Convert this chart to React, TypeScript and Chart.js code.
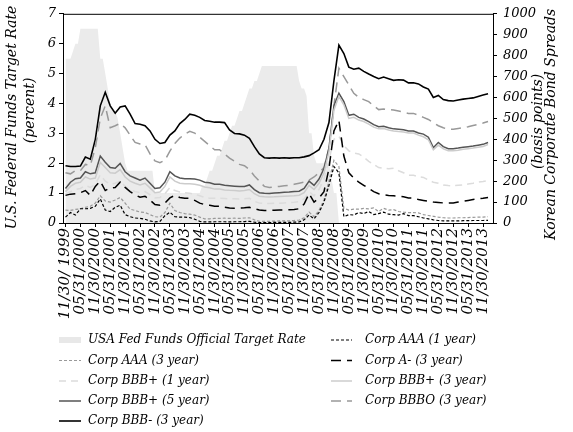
import React, { useEffect, useRef } from "react";
import { Chart, registerables } from "chart.js";

Chart.register(...registerables);

const FONT = "'DejaVu Serif', serif";

// x tick labels, one every 6 months starting at 11/30/1999 (month index 0)
const tickLabels = [
  "11/30/ 1999", "05/31/2000", "11/30/2000", "05/31/2001", "11/30/2001",
  "05/31/2002", "11/30/2002", "05/31/2003", "11/30/2003", "05/31/2004",
  "11/30/2004", "05/31/2005", "11/30/2005", "05/31/2006", "11/30/2006",
  "05/31/2007", "11/30/2007", "05/31/2008", "11/30/2008", "05/31/2009",
  "11/30/2009", "05/31/2010", "11/30/2010", "05/31/2011", "11/30/2011",
  "05/31/2012", "11/30/2012", "05/31/2013", "11/30/2013",
];

// month indices (0 = Nov 1999)
const fedMonths = Array.from({ length: 172 }, (_, k) => k);
const sampleMonths = Array.from({ length: 86 }, (_, k) => k * 2);

// USA Fed Funds Official Target Rate (percent), monthly
const fedFunds = [
  5.5, 5.5, 5.5, 5.75, 6, 6, 6.5, 6.5, 6.5, 6.5, 6.5, 6.5, 6.5, 6.5,
  5.5, 5.5, 5.0, 4.5, 4.0, 3.75, 3.75, 3.5, 3.0, 2.5, 2.0,
  1.75, 1.75, 1.75, 1.75, 1.75, 1.75, 1.75, 1.75, 1.75, 1.75, 1.75,
  1, 1, 1, 1, 1, 1, 1, 1, 1, 1, 1, 1, 1, 1, 1, 1, 1, 1, 1,
  1.25, 1.25, 1.5, 1.75, 1.75, 2.0, 2.25, 2.25, 2.5, 2.75, 2.75, 3.0,
  3.25, 3.25, 3.5, 3.75, 3.75, 4.0, 4.25, 4.5, 4.5, 4.75, 4.75, 5.0,
  5.25, 5.25, 5.25, 5.25, 5.25, 5.25, 5.25, 5.25, 5.25, 5.25, 5.25, 5.25, 5.25, 5.25, 5.25,
  4.75, 4.5, 4.5, 4.25, 3.0, 3.0, 2.25, 2.0,
  2.0, 2.0, 2.0, 2.0, 2.0,
  1.5, 1.0, 1.0,
  0, 0, 0, 0, 0, 0, 0, 0, 0, 0,
  0, 0, 0, 0, 0, 0, 0, 0, 0, 0,
  0, 0, 0, 0, 0, 0, 0, 0, 0, 0,
  0, 0, 0, 0, 0, 0, 0, 0, 0, 0,
  0, 0, 0, 0, 0, 0, 0, 0, 0, 0,
  0, 0, 0, 0, 0, 0, 0, 0, 0, 0,
  0, 0,
];

// Korean corporate bond spreads (basis points), every 2 months
const corpAAA1 = [
  28, 50, 38, 68, 68, 70, 80, 115, 62, 55, 75, 85, 40, 30, 24, 22, 18, 10, 5, 8,
  35, 52, 30, 28, 28, 26, 18, 8, 5, 5, 6,
  6, 6, 5, 6, 6, 7, 8, 4, 2, 2, 2, 3, 3, 3, 3, 4, 5, 15, 38, 20,
  50, 100, 180, 270, 240, 30, 40, 38, 50, 45, 55, 40, 45, 52, 42, 40, 38, 45, 35,
  35, 30, 24, 20, 15, 12, 10, 10, 10, 10, 11, 11, 12, 12, 12, 13,
];
const corpAAA3 = [
  62, 60, 65, 68, 75, 80, 95, 130, 105, 100, 110, 122, 95, 66, 60, 52, 50, 40, 30, 28,
  50, 94, 60, 50, 45, 42, 38, 28, 20, 20, 22,
  22, 23, 22, 23, 22, 24, 25, 15, 8, 8, 8, 9, 10, 10, 10, 12, 14, 25, 52, 30,
  60, 110, 200, 300, 270, 70, 62, 66, 66, 70, 68, 72, 55, 70, 62, 64, 55, 52, 50,
  50, 48, 40, 36, 32, 28, 25, 24, 24, 25, 25, 26, 27, 28, 28, 30,
];
const corpAm3 = [
  132, 138, 140, 145, 155, 132, 175, 200, 155, 168, 170, 195, 170, 150, 135, 123, 128, 110, 88, 85,
  95, 120, 132, 122, 118, 118, 108, 95, 88, 85, 80,
  80, 76, 72, 71, 72, 73, 75, 68, 62, 60, 60, 61, 62, 62, 63, 65, 68, 90, 141, 100,
  120, 150, 260, 440, 490, 320, 240, 215, 195, 180, 165, 150, 140, 135, 132, 130, 128, 125, 120,
  120, 112, 108, 104, 100, 98, 96, 95, 96, 100, 104, 108, 112, 116, 118, 122,
];
const corpBBBp1 = [
  140, 150, 160, 165, 180, 170, 185, 230, 200, 185, 190, 200, 175, 160, 150, 145, 150, 135, 120, 122,
  140, 170, 155, 148, 145, 142, 138, 130, 122, 118, 118,
  118, 117, 116, 116, 115, 116, 118, 104, 95, 93, 93, 94, 95, 96, 97, 99, 102, 115, 150, 130,
  160, 210, 300, 400, 415, 370, 345, 335, 330, 315, 295, 280, 265, 262, 259, 262, 250, 240, 228,
  228, 222, 218, 205, 195, 190, 182, 179, 178, 180, 182, 186, 190, 195, 198, 203,
];
const corpBBBp3 = [
  150, 175, 190, 195, 220, 210, 215, 290, 265, 240, 238, 255, 220, 200, 190, 182, 190, 168, 145, 148,
  175, 220, 200, 190, 188, 188, 185, 180, 172, 168, 162,
  162, 158, 156, 155, 153, 155, 160, 140, 128, 125, 124, 125, 127, 128, 129, 130, 133, 145, 180, 160,
  190, 240, 340, 540, 605, 565, 500, 505, 492, 485, 473, 458, 450, 452, 445, 440, 437, 435, 430,
  430, 420, 412, 398, 350, 372, 355, 345, 345, 348, 352, 355, 358, 362, 366, 375,
];
const corpBBBp5 = [
  165, 195, 212, 215, 245, 235, 240, 320, 290, 265, 262, 285, 245, 225, 215, 205, 215, 190, 165, 168,
  195, 245, 225, 215, 212, 212, 210, 205, 195, 192, 185,
  185, 180, 178, 176, 174, 175, 182, 160, 145, 142, 141, 143, 145, 147, 148, 150, 152, 165, 200, 180,
  210, 260, 358, 560, 620, 580, 515, 520, 505, 497, 485, 470, 460, 462, 455, 450, 448, 446, 440,
  440, 430, 425, 410, 360, 385, 365, 355, 355, 358, 362, 365, 368, 372, 376, 385,
];
const corpBBBO3 = [
  240, 235, 250, 250, 280, 275, 360, 500, 560, 455, 465, 476, 455, 420, 385, 378, 375, 330, 297, 288,
  300, 344, 380, 406, 425, 438, 430, 410, 390, 370, 350,
  350, 330, 310, 295, 280, 274, 255, 225, 200, 175, 170, 172, 175, 178, 180, 185, 190, 195, 205, 220,
  240, 265, 358, 560, 740, 700, 660, 620, 600, 590, 580, 560, 542, 545, 542, 540, 535, 530, 524,
  524, 515, 505, 495, 480, 465, 455, 448, 448, 452, 455, 460, 466, 472, 478, 485,
];
const corpBBBm3 = [
  274, 270, 270, 272, 315, 305, 400, 560, 625, 560, 525, 555, 560, 520, 475, 472, 465, 440, 400, 380,
  385, 420, 440, 475, 495, 520, 515, 505, 490, 486, 482,
  482, 480, 445, 428, 426, 420, 405, 365, 330, 312, 310, 312, 310, 312, 310, 312, 312, 316, 322, 335,
  350, 400, 480, 680, 850, 810, 745, 735, 740, 725, 712, 700, 690, 698, 690, 682, 685, 683, 670,
  670, 665, 650, 640, 600, 610, 590, 585, 583, 588, 592, 595, 598, 605, 612, 618,
];

const toPts = (xs: number[], vals: number[]) => vals.map((v, k) => ({ x: xs[k], y: v }));

type LegendItem = { label: string; color: string; dash: number[]; width: number; area?: boolean };

const legendCol1: LegendItem[] = [
  { label: "USA Fed Funds Official Target Rate", color: "#e8e8e8", dash: [], width: 6, area: true },
  { label: "Corp AAA (3 year)", color: "#999999", dash: [3, 2], width: 1.2 },
  { label: "Corp BBB+ (1 year)", color: "#dcdcdc", dash: [7, 5], width: 1.5 },
  { label: "Corp BBB+ (5 year)", color: "#555555", dash: [], width: 1.5 },
  { label: "Corp BBB- (3 year)", color: "#000000", dash: [], width: 1.6 },
];
const legendCol2: LegendItem[] = [
  { label: "Corp AAA (1 year)", color: "#000000", dash: [3, 2], width: 1.2 },
  { label: "Corp A- (3 year)", color: "#000000", dash: [10, 6], width: 1.5 },
  { label: "Corp BBB+ (3 year)", color: "#cccccc", dash: [], width: 1.5 },
  { label: "Corp BBBO (3 year)", color: "#999999", dash: [10, 6], width: 1.5 },
];

const decorPlugin = {
  id: "decor",
  afterDraw(chart: any) {
    const { ctx, chartArea } = chart;
    ctx.save();
    // top frame line
    ctx.strokeStyle = "#000";
    ctx.lineWidth = 1;
    ctx.beginPath();
    ctx.moveTo(chartArea.left, chartArea.top + 0.5);
    ctx.lineTo(chartArea.right, chartArea.top + 0.5);
    ctx.stroke();

    // axis titles
    ctx.fillStyle = "#000";
    ctx.font = `italic 14px ${FONT}`;
    ctx.textAlign = "center";
    ctx.textBaseline = "middle";
    const drawRot = (text: string, x: number, y: number) => {
      ctx.save();
      ctx.translate(x, y);
      ctx.rotate(-Math.PI / 2);
      ctx.fillText(text, 0, 0);
      ctx.restore();
    };
    const cy = (chartArea.top + chartArea.bottom) / 2;
    drawRot("U.S. Federal Funds Target Rate", 12, cy - 1);
    drawRot("(percent)", 30, cy - 8);
    drawRot("Korean Corporate Bond Spreads", 551, cy + 6);
    drawRot("(basis points)", 538, cy + 3);

    // legend
    ctx.font = `italic 12px ${FONT}`;
    ctx.textAlign = "left";
    const rowY = [340, 360.5, 381, 401, 421];
    const drawItem = (it: LegendItem, x0: number, x1: number, tx: number, y: number) => {
      if (it.area) {
        ctx.fillStyle = it.color;
        ctx.fillRect(x0, y - 3, x1 - x0, 6);
      } else {
        ctx.strokeStyle = it.color;
        ctx.lineWidth = it.width;
        ctx.setLineDash(it.dash);
        ctx.beginPath();
        ctx.moveTo(x0, y);
        ctx.lineTo(x1, y);
        ctx.stroke();
        ctx.setLineDash([]);
      }
      ctx.fillStyle = "#000";
      ctx.fillText(it.label, tx, y);
    };
    legendCol1.forEach((it, i) => drawItem(it, 59, 81, 88, rowY[i]));
    legendCol2.forEach((it, i) => drawItem(it, 331, 352, 365, rowY[i]));
    ctx.restore();
  },
};

export default function App() {
  const ref = useRef<HTMLCanvasElement | null>(null);
  useEffect(() => {
    if (!ref.current) return;
    const line = (label: string, vals: number[], color: string, width: number, dash: number[]) => ({
      label,
      data: toPts(sampleMonths, vals),
      borderColor: color,
      borderWidth: width,
      borderDash: dash,
      pointRadius: 0,
      fill: false,
      tension: 0,
      yAxisID: "y1",
      order: 0,
    });
    const axisTickFont = { family: FONT, size: 13, style: "italic" as const };
    const chart = new Chart(ref.current, {
      type: "line",
      data: {
        datasets: [
          {
            label: "USA Fed Funds Official Target Rate",
            data: toPts(fedMonths, fedFunds),
            borderColor: "#ebebeb",
            borderWidth: 0,
            backgroundColor: "#ebebeb",
            pointRadius: 0,
            fill: "origin",
            tension: 0,
            yAxisID: "y",
            order: 10,
          },
          line("Corp AAA (1 year)", corpAAA1, "#000000", 1.2, [3, 2]),
          line("Corp AAA (3 year)", corpAAA3, "#999999", 1.2, [3, 2]),
          line("Corp A- (3 year)", corpAm3, "#000000", 1.5, [10, 6]),
          line("Corp BBB+ (1 year)", corpBBBp1, "#dcdcdc", 1.5, [7, 5]),
          line("Corp BBB+ (3 year)", corpBBBp3, "#cccccc", 1.5, []),
          line("Corp BBB+ (5 year)", corpBBBp5, "#555555", 1.5, []),
          line("Corp BBBO (3 year)", corpBBBO3, "#999999", 1.5, [10, 6]),
          line("Corp BBB- (3 year)", corpBBBm3, "#000000", 1.6, []),
        ],
      },
      options: {
        animation: false,
        responsive: true,
        maintainAspectRatio: false,
        layout: { padding: { top: 11, bottom: 104, left: 0, right: 0 } },
        plugins: { legend: { display: false }, tooltip: { enabled: false } },
        scales: {
          x: {
            type: "linear",
            min: -1,
            max: 172,
            afterBuildTicks: (s: any) => {
              s.ticks = tickLabels.map((_, k) => ({ value: k * 6 }));
            },
            afterFit: (s: any) => {
              s.height = 105;
            },
            ticks: {
              autoSkip: false,
              maxRotation: 90,
              minRotation: 90,
              padding: 1,
              color: "#000",
              font: { family: FONT, size: 15, style: "italic" },
              callback: (_v: any, i: number) => tickLabels[i] ?? "",
            },
            grid: { drawOnChartArea: false, drawTicks: true, tickLength: 4, color: "#000" },
            border: { color: "#000" },
          },
          y: {
            position: "left",
            min: 0,
            max: 7,
            afterFit: (s: any) => {
              s.width = 63;
            },
            ticks: { stepSize: 1, padding: 3, color: "#000", font: axisTickFont, callback: (v: any) => String(v) },
            grid: { drawOnChartArea: false, drawTicks: true, tickLength: 4, color: "#000" },
            border: { color: "#000" },
          },
          y1: {
            position: "right",
            min: 0,
            max: 1000,
            afterFit: (s: any) => {
              s.width = 80;
            },
            ticks: { stepSize: 100, padding: 6, color: "#000", font: axisTickFont, callback: (v: any) => String(v) },
            grid: { drawOnChartArea: false, drawTicks: true, tickLength: 4, color: "#000" },
            border: { color: "#000" },
          },
        },
      },
      plugins: [decorPlugin],
    });
    return () => chart.destroy();
  }, []);
  return (
    <div style={{ position: "fixed", left: 0, top: 0, width: 573, height: 432, background: "#fff" }}>
      <canvas ref={ref} />
    </div>
  );
}
